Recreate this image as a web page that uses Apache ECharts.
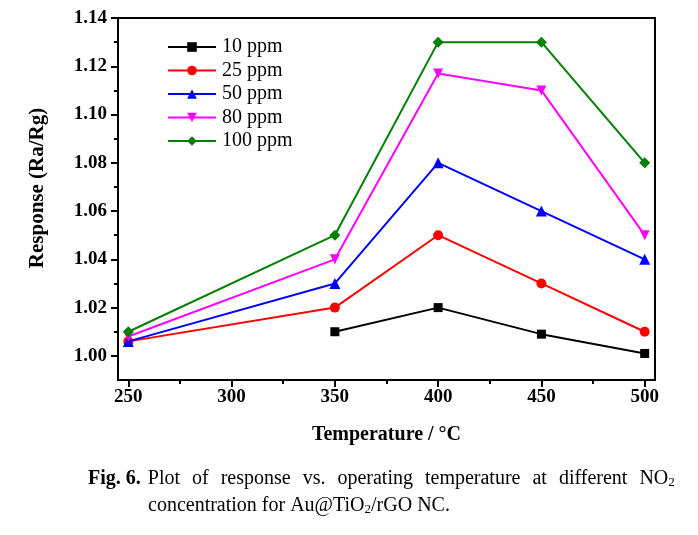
<!DOCTYPE html>
<html><head><meta charset="utf-8">
<script src="https://cdn.jsdelivr.net/npm/echarts@6/dist/echarts.min.js"></script>
<style>html,body{margin:0;padding:0;background:#fff}#c{width:698px;height:535px}</style>
</head><body><div id="c"></div>
<script>
const temperatures = [250, 350, 400, 450, 500];
const ppm10 = [null, 1.010, 1.020, 1.009, 1.001];
const ppm25 = [1.006, 1.020, 1.050, 1.030, 1.010];
const ppm50 = [1.006, 1.030, 1.080, 1.060, 1.040];
const ppm80 = [1.008, 1.040, 1.117, 1.110, 1.050];
const ppm100 = [1.010, 1.050, 1.130, 1.130, 1.080];
const seriesNames = ['10 ppm', '25 ppm', '50 ppm', '80 ppm', '100 ppm'];
const xTicks = [250, 300, 350, 400, 450, 500];
const xMinor = [275, 325, 375, 425, 475];
const yTicks = [1.00, 1.02, 1.04, 1.06, 1.08, 1.10, 1.12, 1.14];
const yMinor = [1.01, 1.03, 1.05, 1.07, 1.09, 1.11, 1.13];
const captionLine1 = ['Plot', 'of', 'response', 'vs.', 'operating', 'temperature', 'at', 'different', 'NO{s|2}'];
const captionLine2 = 'concentration for Au@TiO{s|2}/rGO NC.';

const serif = 'Liberation Serif, Times New Roman, serif';
const colors = ['#000000', '#ff0000', '#0000ff', '#ff00ff', '#008000'];
const symbols = ['rect', 'circle', 'triangle', 'path://M-1,-1L1,-1L0,1Z', 'path://M0,-1L1,0L0,1L-1,0Z'];
const sizes = [9, 10, 11, 10, 11];
const allData = [ppm10, ppm25, ppm50, ppm80, ppm100];

const chart = echarts.init(document.getElementById('c'), null, {renderer: 'canvas'});
const axisLineStyle = {color: '#000', width: 2};
const subStyle = {fontSize: 13, fontFamily: serif, verticalAlign: 'bottom', padding: [8, 0, 0, 0]};
const option = {
  animation: false,
  grid: {left: 118, right: 43, top: 18, bottom: 155, show: true, borderColor: '#000', borderWidth: 2},
  legend: {
    left: 162, top: 32, orient: 'vertical', itemGap: 3.5, itemWidth: 48, itemHeight: 12,
    data: seriesNames,
    textStyle: {fontFamily: serif, fontSize: 20, color: '#000', padding: [0, 0, 0, 1]}
  },
  xAxis: [{
    type: 'value', min: 245, max: 505,
    name: 'Temperature / °C', nameLocation: 'middle', nameGap: 45,
    nameTextStyle: {fontFamily: serif, fontSize: 20, fontWeight: 'bold', color: '#000'},
    axisLine: {show: true, lineStyle: axisLineStyle},
    axisTick: {show: true, length: 7, lineStyle: {color: '#000', width: 2}, customValues: xTicks},
    axisLabel: {fontFamily: serif, fontSize: 19, fontWeight: 'bold', color: '#000', margin: 8, customValues: xTicks},
    splitLine: {show: false}
  }, {
    type: 'value', min: 245, max: 505, position: 'bottom',
    axisLine: {show: false},
    axisTick: {show: true, length: 4, lineStyle: {color: '#000', width: 2}, customValues: xMinor},
    axisLabel: {show: false, customValues: xMinor},
    splitLine: {show: false}
  }],
  yAxis: [{
    type: 'value', min: 0.99, max: 1.14,
    axisLine: {show: true, lineStyle: axisLineStyle},
    axisTick: {show: true, length: 7, lineStyle: {color: '#000', width: 2}, customValues: yTicks},
    axisLabel: {fontFamily: serif, fontSize: 19, fontWeight: 'bold', color: '#000', margin: 11,
      customValues: yTicks, formatter: v => v.toFixed(2)},
    splitLine: {show: false}
  }, {
    type: 'value', min: 0.99, max: 1.14, position: 'left',
    axisLine: {show: false},
    axisTick: {show: true, length: 4, lineStyle: {color: '#000', width: 2}, customValues: yMinor},
    axisLabel: {show: false, customValues: yMinor},
    splitLine: {show: false}
  }],
  series: seriesNames.map((n, i) => ({
    name: n, type: 'line',
    data: temperatures.map((t, j) => allData[i][j] == null ? null : [t, allData[i][j]]).filter(d => d),
    symbol: symbols[i], symbolSize: sizes[i],
    itemStyle: {color: colors[i]},
    lineStyle: {color: colors[i], width: 2},
    z: 3 + i
  })),
  graphic: [{
    type: 'text', x: 38, y: 188, rotation: Math.PI / 2,
    style: {
      text: 'Response (Ra/Rg)', font: 'bold 21px ' + serif, fill: '#000',
      align: 'center', verticalAlign: 'middle'
    }
  }, {
    type: 'text', left: 88, top: 469,
    style: {
      text: '{b|Fig. 6.}{v| }' + captionLine1.join('{w| }'),
      font: '20px ' + serif, fill: '#000',
      rich: {b: {fontWeight: 'bold', fontFamily: serif, fontSize: 20}, v: {width: 7, fontSize: 20},
        w: {width: 12, fontSize: 20}, s: subStyle}
    }
  }, {
    type: 'text', left: 148, top: 496,
    style: {
      text: captionLine2,
      font: '20px ' + serif, fill: '#000',
      rich: {s: subStyle}
    }
  }]
};
chart.setOption(option);
</script></body></html>
